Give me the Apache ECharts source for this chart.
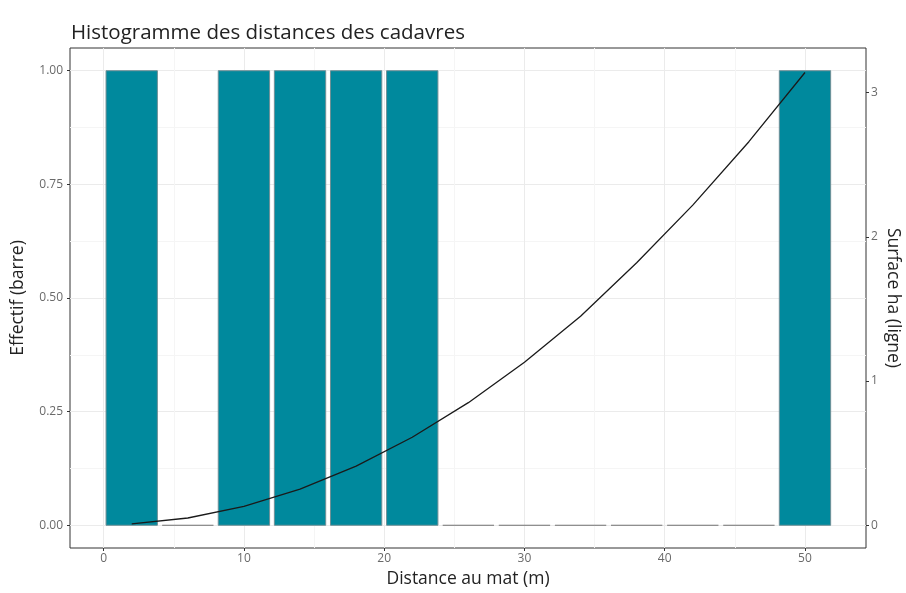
<!DOCTYPE html>
<html><head><meta charset="utf-8">
<script src="https://cdn.jsdelivr.net/npm/echarts@6/dist/echarts.min.js"></script>
<style>html,body{margin:0;padding:0;background:#fff}#c{width:906px;height:593px}</style>
</head><body><div id="c"></div>
<script>
const binStarts = [0, 4, 8, 12, 16, 20, 24, 28, 32, 36, 40, 44, 48];
const binEnds   = [4, 8, 12, 16, 20, 24, 28, 32, 36, 40, 44, 48, 52];
const counts    = [1, 0, 1, 1, 1, 1, 0, 0, 0, 0, 0, 0, 1];
const lineX = [2, 6, 10, 14, 18, 22, 26, 30, 34, 38, 42, 46, 50];
const lineY = [0.01, 0.05, 0.13, 0.25, 0.41, 0.61, 0.85, 1.13, 1.45, 1.82, 2.22, 2.66, 3.14];
const xTicks = [0, 10, 20, 30, 40, 50];
const xMinor = [5, 15, 25, 35, 45];
const leftTicks = [0, 0.25, 0.5, 0.75, 1];
const leftMinor = [0.125, 0.375, 0.625, 0.875];
const rightTicks = [0, 1, 2, 3];

const FONT = 'Open Sans';
const chart = echarts.init(document.getElementById('c'), null, {renderer: 'canvas'});
const barData = binStarts.map((s, i) => [s, binEnds[i], counts[i]]);
const inset = 0.17;

const option = {
  animation: false,
  backgroundColor: '#fff',
  title: {
    text: 'Histogramme des distances des cadavres',
    left: 66, top: 18,
    textStyle: {fontFamily: FONT, fontSize: 20.5, fontWeight: 'normal', color: '#222'}
  },
  grid: {left: 70, right: 40, top: 48, bottom: 45, show: true, borderColor: '#333', borderWidth: 1,
    backgroundColor: 'transparent', containLabel: false, outerBoundsMode: 'none'},
  xAxis: [{
    type: 'value', min: -2.4, max: 54.35,
    name: 'Distance au mat (m)', nameLocation: 'middle', nameGap: 21,
    nameTextStyle: {fontFamily: FONT, fontSize: 17.5, color: '#222'},
    axisLine: {show: false, onZero: false},
    axisTick: {show: true, customValues: xTicks, length: 3, lineStyle: {color: '#333'}},
    axisLabel: {customValues: xTicks, fontFamily: FONT, fontSize: 12, color: '#6a6a6a', margin: 5},
    splitLine: {show: true, lineStyle: {color: '#ebebeb', width: 1}}
  }, {
    type: 'value', min: -2.4, max: 54.35, position: 'bottom',
    axisLine: {show: false, onZero: false},
    axisTick: {show: false, customValues: xMinor},
    axisLabel: {show: false, customValues: xMinor},
    splitLine: {show: true, lineStyle: {color: '#f5f5f5', width: 1}}
  }],
  yAxis: [{
    type: 'value', min: -0.05, max: 1.05,
    name: 'Effectif (barre)', nameLocation: 'middle', nameGap: 43, nameRotate: 90,
    nameTextStyle: {fontFamily: FONT, fontSize: 17.5, color: '#222'},
    axisLine: {show: false, onZero: false},
    axisTick: {show: true, customValues: leftTicks, length: 3, lineStyle: {color: '#333'}},
    axisLabel: {customValues: leftTicks, formatter: v => v.toFixed(2), fontFamily: FONT, fontSize: 12, color: '#6a6a6a', margin: 7},
    splitLine: {show: true, lineStyle: {color: '#ebebeb', width: 1}}
  }, {
    type: 'value', min: -0.158, max: 3.31, position: 'right',
    name: 'Surface ha (ligne)', nameLocation: 'middle', nameGap: 18, nameRotate: -90,
    nameMoveOverlap: false,
    nameTextStyle: {fontFamily: FONT, fontSize: 17.5, color: '#222'},
    axisLine: {show: false, onZero: false},
    axisTick: {show: true, customValues: rightTicks, length: 3, lineStyle: {color: '#333'}},
    axisLabel: {customValues: rightTicks, fontFamily: FONT, fontSize: 12, color: '#6a6a6a', margin: 5},
    splitLine: {show: false}
  }, {
    type: 'value', min: -0.05, max: 1.05, position: 'left',
    axisLine: {show: false, onZero: false},
    axisTick: {show: false, customValues: leftMinor},
    axisLabel: {show: false, customValues: leftMinor},
    splitLine: {show: true, lineStyle: {color: '#f5f5f5', width: 1}}
  }],
  series: [{
    type: 'custom', xAxisIndex: 0, yAxisIndex: 0,
    data: barData,
    encode: {x: [0, 1], y: 2},
    renderItem: function (params, api) {
      const x0 = api.value(0), x1 = api.value(1), v = api.value(2);
      const p0 = api.coord([x0 + inset, v]);
      const p1 = api.coord([x1 - inset, 0]);
      if (v === 0) {
        return {type: 'line', shape: {x1: p0[0], y1: p1[1], x2: p1[0], y2: p1[1]},
          style: {stroke: '#707070', lineWidth: 1.2}};
      }
      return {type: 'rect', shape: {x: p0[0], y: p0[1], width: p1[0] - p0[0], height: p1[1] - p0[1]},
        style: {fill: '#00899d', stroke: '#6f8f96', lineWidth: 1}};
    },
    z: 2
  }, {
    type: 'line', xAxisIndex: 0, yAxisIndex: 1,
    data: lineX.map((x, i) => [x, lineY[i]]),
    showSymbol: false, smooth: false,
    lineStyle: {color: '#1a1a1a', width: 1.3},
    z: 3
  }]
};
chart.setOption(option);
</script>
</body></html>
